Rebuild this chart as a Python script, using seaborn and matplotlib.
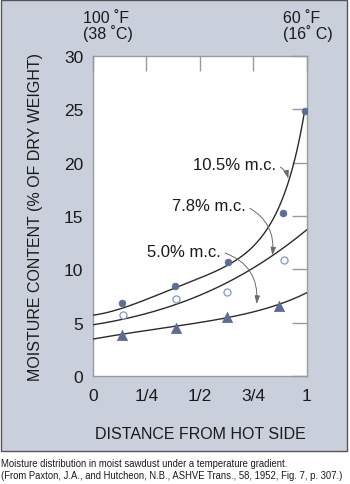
import numpy as np
import pandas as pd
import matplotlib
matplotlib.use("Agg")
import matplotlib.pyplot as plt
from matplotlib.patches import Rectangle
import seaborn as sns

# Measured moisture contents (% of dry weight) vs. relative distance from hot side
pos_105 = [0.137, 0.385, 0.632, 0.889, 0.99]
mc_105 = [6.85, 8.4, 10.7, 15.3, 24.8]
pos_78 = [0.139, 0.387, 0.626, 0.893]
mc_78 = [5.75, 7.2, 7.9, 10.9]
pos_50 = [0.134, 0.387, 0.626, 0.87]
mc_50 = [3.85, 4.5, 5.5, 6.55]

# Smoothed trend values for each average moisture content
trend_x_105 = [0.0, 0.15, 0.3, 0.41, 0.5, 0.64, 0.75, 0.8, 0.875, 0.915, 0.96, 0.99]
trend_y_105 = [5.7, 6.45, 7.6, 8.4, 9.2, 10.65, 12.0, 13.4, 16.0, 18.5, 21.9, 24.8]
trend_x_78 = [0.0, 0.15, 0.3, 0.5, 0.64, 0.81, 0.875, 1.0]
trend_y_78 = [4.8, 5.35, 6.2, 7.5, 8.9, 10.95, 11.8, 13.7]
trend_x_50 = [0.0, 0.15, 0.3, 0.5, 0.625, 0.76, 0.86, 1.0]
trend_y_50 = [3.47, 3.95, 4.4, 5.03, 5.5, 6.05, 6.6, 7.85]

x_ticks = [0, 0.25, 0.5, 0.75, 1]
x_ticklabels = ["0", "1/4", "1/2", "3/4", "1"]
y_ticks = [0, 5, 10, 15, 20, 25, 30]

sns.set_theme(style="white")
plt.rcParams["font.family"] = ["Liberation Sans", "DejaVu Sans"]

fig = plt.figure(figsize=(3.5, 4.85), dpi=100)
fig.patch.set_facecolor("white")
fig.patches.append(Rectangle((0.0015, 0.068), 0.989, 0.929, transform=fig.transFigure,
                             facecolor="#c9cfdb", edgecolor="#555555", lw=1.0, zorder=-5))

ax = fig.add_axes([0.2657, 0.2227, 0.6114, 0.6598])
ax.set_zorder(2)
ax.set_facecolor("white")


def smooth(xk, yk, x_end, deg):
    coef = np.polyfit(xk, np.log(yk), deg)
    xs = np.linspace(0, x_end, 200)
    return pd.DataFrame({"x": xs, "y": np.exp(np.polyval(coef, xs))})


line_color = "#2b2b2b"
for xk, yk, xe, deg in [(trend_x_105, trend_y_105, 0.99, 5),
                        (trend_x_78, trend_y_78, 1.0, 3),
                        (trend_x_50, trend_y_50, 1.0, 3)]:
    d = smooth(xk, yk, xe, deg)
    sns.lineplot(data=d, x="x", y="y", ax=ax, color=line_color, lw=1.0, zorder=3)

mark = "#5b6d96"
sns.scatterplot(x=pos_105, y=mc_105, ax=ax, marker="o", s=24, color=mark,
                edgecolor=mark, linewidth=0.5, zorder=4)
sns.scatterplot(x=pos_78, y=mc_78, ax=ax, marker="o", s=26, facecolor="white",
                edgecolor="#8495bd", linewidth=0.9, zorder=4)
sns.scatterplot(x=pos_50, y=mc_50, ax=ax, marker="^", s=55, color=mark,
                edgecolor=mark, linewidth=0.5, zorder=4)

ax.set_xlim(0, 1)
ax.set_ylim(0, 30)
ax.set_xticks(x_ticks)
ax.set_xticklabels(x_ticklabels)
ax.set_yticks(y_ticks)
ax.tick_params(axis="both", direction="in", length=11, width=1.0, color="#9a9a9a",
               labelsize=12.5, labelcolor="#1a1a1a", top=True, right=True)
ax.tick_params(axis="x", pad=9)
ax.tick_params(axis="y", pad=7)
for sp in ax.spines.values():
    sp.set_color("#9a9a9a")
    sp.set_linewidth(1.0)

ax.set_xlabel("DISTANCE FROM HOT SIDE", fontsize=11.5, color="#1a1a1a", labelpad=16)
ax.set_ylabel("MOISTURE CONTENT (% OF DRY WEIGHT)", fontsize=11.5, color="#1a1a1a",
              labelpad=15)

arrow = dict(arrowstyle="-|>,head_length=0.4,head_width=0.13", color="#6a6a6a",
             lw=0.7, shrinkA=1, shrinkB=0, relpos=(1.0, 0.5))
ax.annotate("10.5% m.c.", xy=(0.913, 18.5), xytext=(0.467, 19.8), fontsize=12,
            ha="left", va="center", color="#1a1a1a",
            arrowprops=dict(arrow, connectionstyle="arc3,rad=-0.25"))
ax.annotate("7.8% m.c.", xy=(0.838, 11.3), xytext=(0.368, 15.95), fontsize=12,
            ha="left", va="center", color="#1a1a1a",
            arrowprops=dict(arrow, connectionstyle="arc3,rad=-0.35"))
ax.annotate("5.0% m.c.", xy=(0.765, 6.75), xytext=(0.251, 11.67), fontsize=12,
            ha="left", va="center", color="#1a1a1a",
            arrowprops=dict(arrow, connectionstyle="arc3,rad=-0.4"))

fig.text(83 / 350, 1 - 11 / 485, "100 \u02daF\n(38 \u02daC)", fontsize=11.5,
         ha="left", va="top", linespacing=0.95, color="#1a1a1a")
fig.text(283 / 350, 1 - 11 / 485, "60 \u02daF\n(16\u02da C)", fontsize=11.5,
         ha="left", va="top", linespacing=0.95, color="#1a1a1a")

fig.text(0.004, 1 - 459 / 485,
         "Moisture distribution in moist sawdust under a temperature gradient.\n"
         "(From Paxton, J.A., and Hutcheon, N.B., ASHVE Trans., 58, 1952, Fig. 7, p. 307.)",
         fontsize=6.85, ha="left", va="top", linespacing=1.2, color="#1a1a1a")

fig.savefig("out.png", dpi=100)
